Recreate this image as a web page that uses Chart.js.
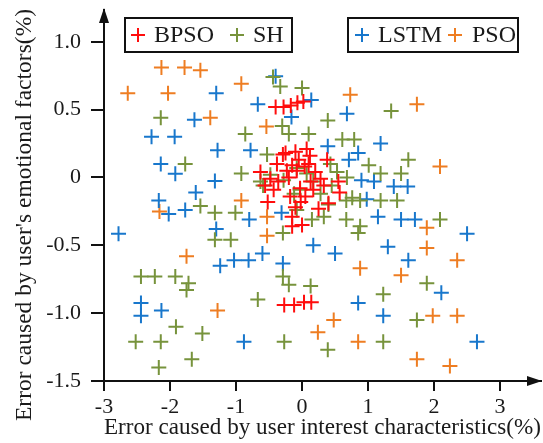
<!DOCTYPE html>
<html>
<head>
<meta charset="utf-8">
<script src="https://cdn.jsdelivr.net/npm/chart.js@4"></script>
<style>
  body { margin: 0; background: #fff; }
</style>
</head>
<body>
<canvas id="chart" width="543" height="443"></canvas>
<script>
const seriesNames = ['BPSO', 'SH', 'LSTM', 'PSO'];
const seriesColors = ['#ff0d0d', '#77933c', '#1877cc', '#ee7d22'];

const bpsoPoints = [
  [-0.40, 0.52], [-0.28, 0.52], [-0.17, 0.53], [-0.07, 0.55], [0.02, 0.56],
  [-0.27, -0.94], [-0.12, -0.94], [0.03, -0.92], [0.14, -0.92],
  [-0.25, 0.18], [-0.10, 0.19], [0.07, 0.21], [-0.15, 0.09], [-0.38, 0.10],
  [-0.23, 0.05], [0.10, 0.10], [0.38, 0.13], [-0.63, 0.04], [-0.48, -0.01],
  [-0.36, -0.03], [-0.20, 0.0], [-0.56, -0.06], [-0.43, -0.09], [-0.03, -0.08],
  [0.17, -0.09], [0.05, -0.14], [-0.18, -0.14], [0.55, -0.03], [0.57, -0.11],
  [0.28, -0.01], [-0.52, -0.18], [-0.10, -0.22], [0.25, -0.23], [-0.15, -0.29],
  [-0.15, -0.36], [0.0, -0.35], [-0.08, 0.05], [0.04, 0.08], [0.13, -0.03],
  [0.40, -0.19], [0.33, -0.06], [-0.29, 0.17], [0.12, 0.16], [-0.05, 0.13],
  [-0.02, -0.18], [0.20, 0.04]
];

const shPoints = [
  [-0.44, 0.74], [-0.33, 0.67], [0.0, 0.66], [1.35, 0.49], [-2.14, 0.44],
  [0.39, 0.42], [-0.86, 0.32], [-0.30, 0.38], [-0.20, 0.32], [0.10, 0.32],
  [0.61, 0.28], [0.79, 0.28], [-1.77, 0.10], [-0.53, 0.17], [1.61, 0.13],
  [-0.92, 0.03], [1.01, 0.09], [1.19, 0.03], [1.50, 0.03], [-1.54, -0.21],
  [-1.32, -0.26], [-1.01, -0.26], [-1.32, -0.46], [-1.08, -0.46], [0.67, -0.17],
  [0.88, -0.17], [1.19, -0.17], [1.44, -0.17], [2.09, -0.31], [0.67, -0.31],
  [0.88, -0.36], [0.85, -0.41], [-0.29, -0.41], [-2.44, -0.73], [-2.23, -0.73],
  [-1.92, -0.73], [-1.72, -0.78], [-1.75, -0.83], [-0.29, -0.73], [-0.20, -0.79],
  [0.13, -0.80], [-0.67, -0.90], [1.23, -0.86], [1.89, -0.78], [1.74, -1.05],
  [-1.91, -1.10], [-1.51, -1.15], [-2.52, -1.21], [-2.14, -1.21], [-0.27, -1.21],
  [1.23, -1.21], [0.39, -1.27], [-1.67, -1.34], [-2.17, -1.40],
  [-0.63, -0.03], [-0.48, 0.02], [-0.08, 0.07], [0.07, 0.03], [0.17, -0.03],
  [0.43, 0.10], [0.53, 0.04], [0.28, -0.12], [0.45, -0.06], [0.68, 0.0],
  [-0.03, -0.09], [-0.28, -0.02], [0.76, -0.15], [0.40, -0.20], [-0.08, -0.24],
  [0.15, -0.31], [0.33, -0.29], [-0.59, -0.06], [-0.12, -0.12]
];

const lstmPoints = [
  [-0.40, 0.745], [0.14, 0.57], [-0.67, 0.54], [-0.16, 0.445], [-1.30, 0.62],
  [-1.63, 0.425], [0.68, 0.47], [-2.28, 0.30], [-1.93, 0.30], [-1.28, 0.20],
  [-0.78, 0.20], [0.39, 0.23], [1.19, 0.25], [0.71, 0.13], [0.85, 0.18],
  [-2.14, 0.10], [-1.92, 0.027], [-1.32, -0.027], [-1.61, -0.11], [-2.17, -0.17],
  [-2.02, -0.27], [-1.77, -0.24], [0.90, -0.02], [1.09, -0.03], [1.39, -0.066],
  [1.60, -0.066], [0.98, -0.16], [1.15, -0.29], [1.50, -0.31], [1.71, -0.31],
  [2.50, -0.415], [-2.78, -0.415], [-1.30, -0.38], [-0.80, -0.31], [-0.31, -0.26],
  [0.17, -0.50], [0.50, -0.56], [1.30, -0.51], [-0.60, -0.56], [-1.03, -0.61],
  [-0.81, -0.61], [-1.24, -0.65], [-0.29, -0.635], [1.61, -0.61], [2.11, -0.85],
  [0.85, -0.925], [-2.44, -0.925], [-2.44, -1.02], [-2.13, -0.98], [1.23, -1.02],
  [-0.88, -1.21], [2.65, -1.21]
];

const psoPoints = [
  [-2.13, 0.81], [-1.78, 0.81], [-1.54, 0.79], [-2.64, 0.62], [-2.03, 0.62],
  [-0.92, 0.69], [-1.39, 0.44], [0.73, 0.61], [1.74, 0.54], [-0.54, 0.375],
  [2.09, 0.08], [-2.16, -0.25], [-0.92, -0.17], [-0.53, -0.29], [-0.53, -0.43],
  [1.89, -0.37], [1.89, -0.52], [2.35, -0.61], [-1.75, -0.58], [0.88, -0.67],
  [1.50, -0.72], [-1.28, -0.98], [0.48, -1.05], [0.24, -1.14], [0.85, -1.21],
  [1.98, -1.02], [2.35, -1.02], [1.74, -1.34], [2.24, -1.39]
];

const seriesPoints = [bpsoPoints, shPoints, lstmPoints, psoPoints];
const xTicks = [-3, -2, -1, 0, 1, 2, 3];
const yTicks = [-1.5, -1, -0.5, 0, 0.5, 1];
const xTitle = 'Error caused by user interest characteristics(%)';
const yTitle = "Error caused by user's emotional factors(%)";

const serif = "'Liberation Serif'";
const ink = '#1a1a1a';

// two framed legend boxes, each holding two series
const legendBoxes = [
  { x: 125, y: 18, w: 167, h: 34, items: [[0, 138, 154], [1, 237, 253]] },
  { x: 348, y: 18, w: 170, h: 34, items: [[2, 362, 378], [3, 455, 472]] }
];

const drawCross = (ctx, x, y, r, color) => {
  ctx.save();
  ctx.strokeStyle = color;
  ctx.lineWidth = 2;
  ctx.beginPath();
  ctx.moveTo(x - r, y); ctx.lineTo(x + r, y);
  ctx.moveTo(x, y - r); ctx.lineTo(x, y + r);
  ctx.stroke();
  ctx.restore();
};

const boxLegend = {
  id: 'boxLegend',
  afterDraw(chart) {
    const ctx = chart.ctx;
    ctx.save();
    legendBoxes.forEach((box) => {
      ctx.fillStyle = '#fff';
      ctx.fillRect(box.x, box.y, box.w, box.h);
      ctx.strokeStyle = '#111';
      ctx.lineWidth = 2;
      ctx.strokeRect(box.x, box.y, box.w, box.h);
      box.items.forEach(([i, cx, tx]) => {
        const cy = box.y + box.h / 2;
        drawCross(ctx, cx, cy, 7, seriesColors[i]);
        ctx.fillStyle = ink;
        ctx.font = '24px ' + serif;
        ctx.textBaseline = 'middle';
        ctx.textAlign = 'left';
        ctx.fillText(seriesNames[i], tx, cy + 1);
      });
    });
    ctx.restore();
  }
};

// arrow heads on both axes, plus the y title placed a bit below the axis middle
const axisDecor = {
  id: 'axisDecor',
  afterDraw(chart) {
    const { left, right, top, bottom } = chart.chartArea;
    const ctx = chart.ctx;
    ctx.save();
    ctx.fillStyle = '#111';
    ctx.beginPath();
    ctx.moveTo(left, top - 2);
    ctx.lineTo(left - 5, top + 13);
    ctx.lineTo(left + 5, top + 13);
    ctx.closePath();
    ctx.fill();
    ctx.beginPath();
    ctx.moveTo(right + 1, bottom);
    ctx.lineTo(right - 14, bottom - 5);
    ctx.lineTo(right - 14, bottom + 5);
    ctx.closePath();
    ctx.fill();

    ctx.translate(25, 215);
    ctx.rotate(-Math.PI / 2);
    ctx.fillStyle = ink;
    ctx.font = '23.5px ' + serif;
    ctx.textAlign = 'center';
    ctx.textBaseline = 'middle';
    ctx.fillText(yTitle, 0, 0);
    ctx.restore();
  }
};

const noEdgePadding = (scale) => {
  scale.paddingLeft = 0;
  scale.paddingRight = 0;
  scale.paddingTop = 0;
  scale.paddingBottom = 0;
};

new Chart(document.getElementById('chart'), {
  type: 'scatter',
  data: {
    datasets: seriesNames.map((name, i) => ({
      label: name,
      data: seriesPoints[i].map(([x, y]) => ({ x, y })),
      pointStyle: 'cross',
      pointRadius: 7.5,
      pointBorderWidth: 2,
      borderColor: seriesColors[i],
      backgroundColor: seriesColors[i],
      order: i
    }))
  },
  options: {
    responsive: false,
    animation: false,
    layout: { autoPadding: false, padding: { top: 10, right: 2, left: 0, bottom: 0 } },
    plugins: {
      legend: { display: false },
      tooltip: { enabled: false }
    },
    scales: {
      x: {
        type: 'linear',
        min: -3,
        max: 3.62,
        afterBuildTicks: (scale) => { scale.ticks = xTicks.map((v) => ({ value: v })); },
        afterFit: (scale) => { scale.height = 62; noEdgePadding(scale); },
        ticks: {
          color: ink,
          padding: 3,
          font: { family: serif, size: 22 },
          callback: (v) => String(v)
        },
        grid: { drawOnChartArea: false, drawTicks: true, tickLength: 10, color: '#111', lineWidth: 2 },
        border: { display: true, color: '#111', width: 2 },
        title: {
          display: true,
          text: xTitle,
          color: ink,
          font: { family: serif, size: 23.5 },
          padding: { top: 0, bottom: 1 }
        }
      },
      y: {
        type: 'linear',
        min: -1.5,
        max: 1.234,
        afterBuildTicks: (scale) => { scale.ticks = yTicks.map((v) => ({ value: v })); },
        afterFit: (scale) => { scale.width = 104; noEdgePadding(scale); },
        ticks: {
          color: ink,
          padding: 10,
          font: { family: serif, size: 22 },
          callback: (v) => (v === 0 ? '0' : v.toFixed(1))
        },
        grid: { drawOnChartArea: false, drawTicks: true, tickLength: 13, color: '#111', lineWidth: 2 },
        border: { display: true, color: '#111', width: 2 }
      }
    }
  },
  plugins: [axisDecor, boxLegend]
});
</script>
</body>
</html>
